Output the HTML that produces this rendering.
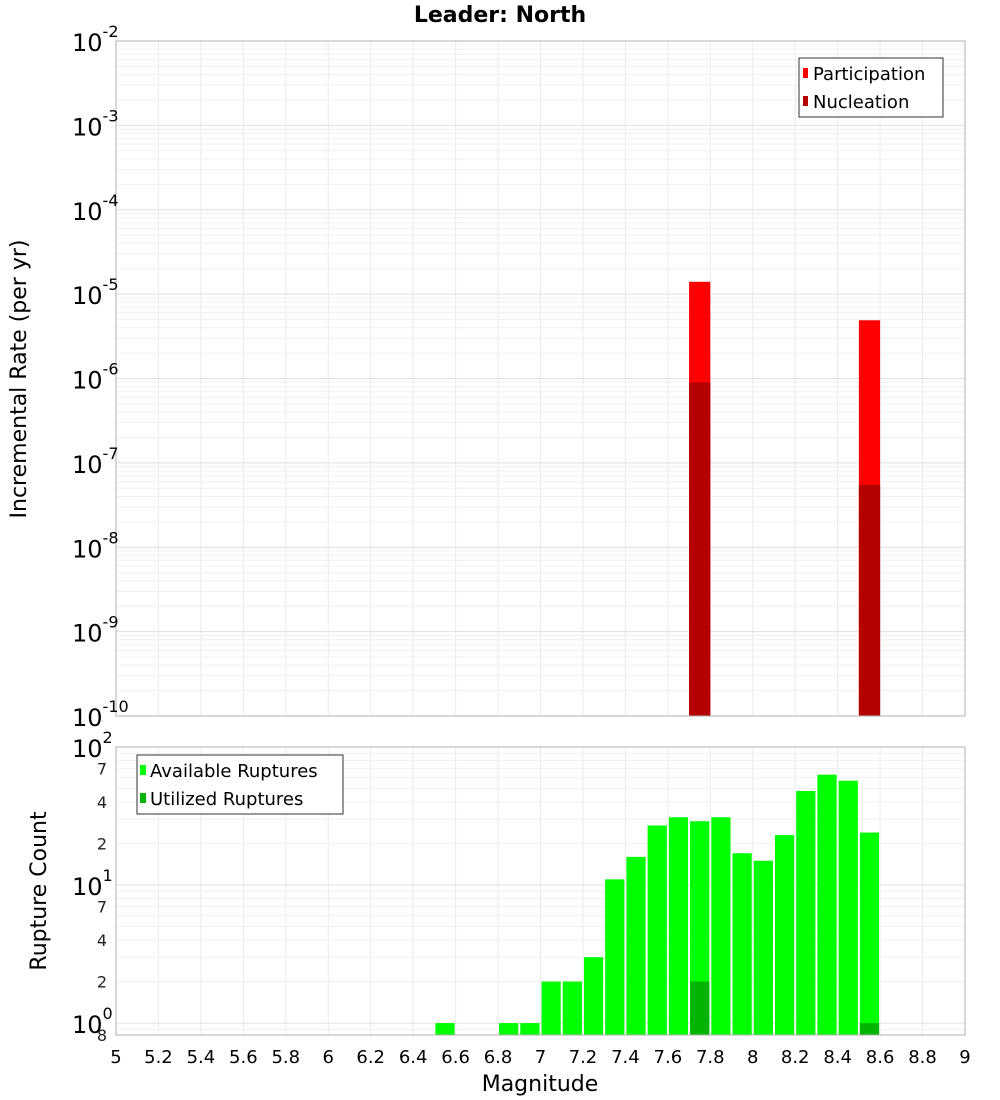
<!DOCTYPE html>
<html><head><meta charset="utf-8"><style>
body{margin:0;background:#fff}
svg{display:block;font-family:"DejaVu Sans","Liberation Sans",sans-serif}
</style></head><body>
<svg id="c" width="1000" height="1100" xmlns="http://www.w3.org/2000/svg">
<text x="500" y="22" text-anchor="middle" font-size="22" font-weight="bold">Leader: North</text>
<g id="top"></g><g id="bot"></g>
</svg>
<script>
const partMags=[7.75,8.55];
const partRates=[1.4e-5,4.9e-6];
const nuclRates=[9e-7,5.5e-8];
const availMags=[6.55,6.85,6.95,7.05,7.15,7.25,7.35,7.45,7.55,7.65,7.75,7.85,7.95,8.05,8.15,8.25,8.35,8.45,8.55];
const availCounts=[1,1,1,2,2,3,11,16,27,31,29,31,17,15,23,48,63,57,24];
const usedMags=[7.75,8.55];
const usedCounts=[2,1];
const xTicks=[5,5.2,5.4,5.6,5.8,6,6.2,6.4,6.6,6.8,7,7.2,7.4,7.6,7.8,8,8.2,8.4,8.6,8.8,9];

const NS="http://www.w3.org/2000/svg";
const X0=116,X1=965;
const x=v=>X0+(v-5)/4*(X1-X0);
const T0=41,T1=716; const yT=v=>T1-(Math.log10(v)+10)/8*(T1-T0);
const B0=747,B1=1035; const lb=Math.log10(0.82); const yB=v=>B1-(Math.log10(v)-lb)/(2-lb)*(B1-B0);
function mk(p,tag,a,txt){const e=document.createElementNS(NS,tag);for(const k in a)e.setAttribute(k,a[k]);if(txt!==undefined)e.textContent=txt;p.appendChild(e);return e;}
const gTop=document.getElementById('top'),gBot=document.getElementById('bot');
[[gTop,T0,T1],[gBot,B0,B1]].forEach(([g,a,b])=>{
  mk(g,'rect',{x:X0,y:a,width:X1-X0,height:b-a,fill:'#fff',stroke:'none'});
  xTicks.forEach(t=>{const l=mk(g,'line',{x1:x(t),x2:x(t),y1:a,y2:b,stroke:'#ebebeb'});
    
    });
});
for(let d=-10;d<-2;d++)for(let m=1;m<10;m++){const y=yT(m*Math.pow(10,d));const l=mk(gTop,'line',{x1:X0,x2:X1,y1:y,y2:y,stroke:m==1?'#e0e0e0':'#f0f0f0'});
  
  }
for(let d=-1;d<2;d++)for(let m=1;m<10;m++){const v=m*Math.pow(10,d);if(v<0.82)continue;const y=yB(v);const l=mk(gBot,'line',{x1:X0,x2:X1,y1:y,y2:y,stroke:m==1?'#e0e0e0':'#f0f0f0'});
  
  }
partMags.forEach((m,i)=>{
  let r=mk(gTop,'rect',{x:x(m-0.05),y:yT(partRates[i]),width:x(m+0.05)-x(m-0.05),height:T1-yT(partRates[i]),fill:'#ff0000'});
  
  
  r=mk(gTop,'rect',{x:x(m-0.05),y:yT(nuclRates[i]),width:x(m+0.05)-x(m-0.05),height:T1-yT(nuclRates[i]),fill:'#b40000'});
  
  
});
availMags.forEach((m,i)=>{
  const r=mk(gBot,'rect',{x:x(m-0.05)+1,y:yB(availCounts[i]),width:x(m+0.05)-x(m-0.05)-2,height:B1-yB(availCounts[i]),fill:'#00ff00'});
  
  
});
usedMags.forEach((m,i)=>{
  const r=mk(gBot,'rect',{x:x(m-0.05)+1,y:yB(usedCounts[i]),width:x(m+0.05)-x(m-0.05)-2,height:B1-yB(usedCounts[i]),fill:'#00b400'});
  
  
});
mk(gTop,'rect',{x:X0,y:T0,width:X1-X0,height:T1-T0,fill:'none',stroke:'#b0b0b0'});
mk(gBot,'rect',{x:X0,y:B0,width:X1-X0,height:B1-B0,fill:'none',stroke:'#b0b0b0'});
for(let d=-10;d<=-2;d++){const y=yT(Math.pow(10,d));
  const t=mk(gTop,'text',{x:72,y:y+10,'font-size':24},'10');
  
  
  mk(t,'tspan',{dy:-14,'font-size':16},String(d));}
[[1,'0'],[10,'1'],[100,'2']].forEach(([v,e])=>{const y=yB(v);
  const t=mk(gBot,'text',{x:72,y:y+10,'font-size':24},'10');
  
  
  mk(t,'tspan',{dy:-14,'font-size':16},e);});
[[2,'2'],[4,'4'],[7,'7'],[20,'2'],[40,'4'],[70,'7'],[0.82,'8']].forEach(([v,s])=>{const t=mk(gBot,'text',{x:107,y:yB(v)+6,'font-size':16,'text-anchor':'end',fill:'#222'},s);
  
  });
xTicks.forEach(t=>{const e=mk(gBot,'text',{x:x(t),y:1063,'font-size':18,'text-anchor':'middle'},String(t));
  
  });
let e=mk(gBot,'text',{x:540,y:1091,'font-size':22,'text-anchor':'middle'},'Magnitude');


e=mk(gTop,'text',{x:0,y:0,'font-size':22,'text-anchor':'middle',transform:'translate(26,379) rotate(-90)'},'Incremental Rate (per yr)');


e=mk(gBot,'text',{x:0,y:0,'font-size':22,'text-anchor':'middle',transform:'translate(46,891) rotate(-90)'},'Rupture Count');


let lg=mk(gTop,'g',{});


mk(lg,'rect',{x:799,y:58,width:144,height:59,fill:'#fff',stroke:'#333'});
mk(lg,'rect',{x:803,y:68,width:5,height:10,fill:'#ff0000'});
mk(lg,'text',{x:813,y:80,'font-size':18},'Participation');
mk(lg,'rect',{x:803,y:96,width:5,height:10,fill:'#b40000'});
mk(lg,'text',{x:813,y:108,'font-size':18},'Nucleation');
lg=mk(gBot,'g',{});


mk(lg,'rect',{x:137,y:755,width:206,height:59,fill:'#fff',stroke:'#333'});
mk(lg,'rect',{x:140,y:765,width:6,height:10,fill:'#00ff00'});
mk(lg,'text',{x:150,y:777,'font-size':18},'Available Ruptures');
mk(lg,'rect',{x:140,y:793,width:6,height:10,fill:'#00b400'});
mk(lg,'text',{x:150,y:805,'font-size':18},'Utilized Ruptures');
</script>
</body></html>
